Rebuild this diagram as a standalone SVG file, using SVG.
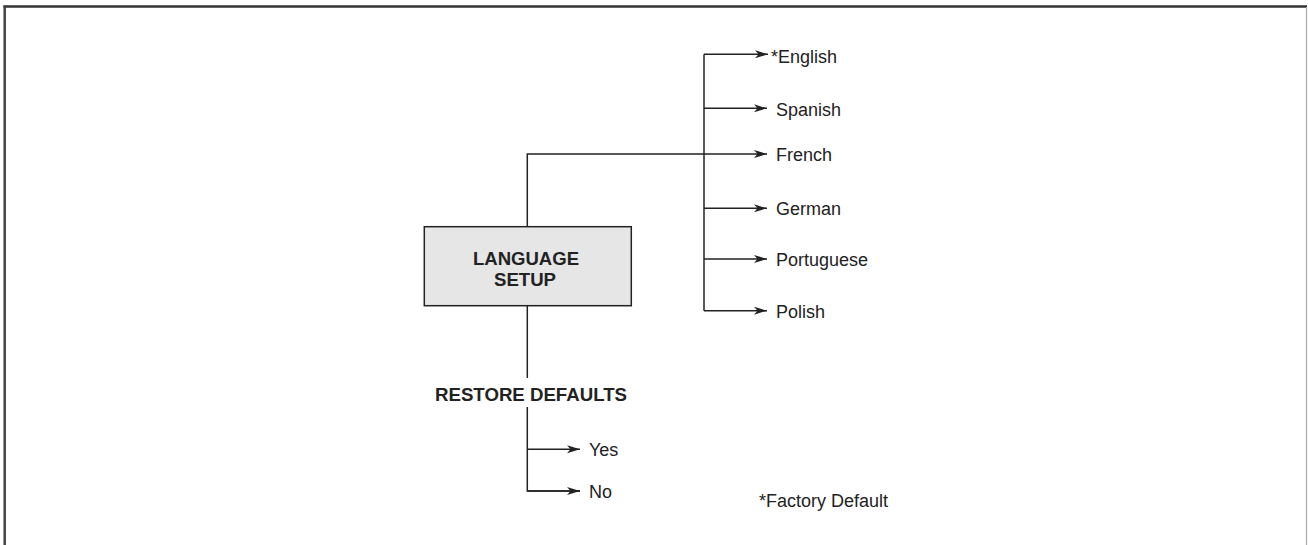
<svg xmlns="http://www.w3.org/2000/svg" width="1308" height="545" viewBox="0 0 1308 545">
<defs>
<marker id="arr" markerWidth="14" markerHeight="9" refX="13" refY="4.5" orient="auto" markerUnits="userSpaceOnUse">
<path d="M0,0.5 L13,4.5 L0,8.5 L3.5,4.5 Z" fill="#222"/>
</marker>
</defs>
<style>
.ln{stroke:#222;stroke-width:1.5;fill:none}
.ar{stroke:#222;stroke-width:1.5;fill:none;marker-end:url(#arr)}
.t{font-family:"Liberation Sans",Arial,sans-serif;font-size:18px;fill:#222}
.b{font-family:"Liberation Sans",Arial,sans-serif;font-size:17.5px;font-weight:bold;fill:#222}
</style>
<rect width="1308" height="545" fill="#fff"/>
<g id="frame">
<line x1="3.5" y1="6.5" x2="1307" y2="6.5" stroke="#333" stroke-width="2.5"/>
<line x1="4.7" y1="5.5" x2="4.7" y2="545" stroke="#444" stroke-width="2.5"/>
<line x1="1306.5" y1="7" x2="1306.5" y2="545" stroke="#aaa" stroke-width="1.2"/>
</g>
<g id="connectors">
<polyline class="ln" points="527.3,226.7 527.3,154 704,154"/>
<line class="ln" x1="704" y1="54.3" x2="704" y2="310.7"/>
<line class="ar" x1="704" y1="54.3" x2="768" y2="54.3"/>
<line class="ar" x1="704" y1="108.3" x2="767" y2="108.3"/>
<line class="ar" x1="704" y1="154" x2="767" y2="154"/>
<line class="ar" x1="704" y1="208.3" x2="767" y2="208.3"/>
<line class="ar" x1="704" y1="259" x2="767" y2="259"/>
<line class="ar" x1="704" y1="310.7" x2="767" y2="310.7"/>
<line class="ln" x1="527.3" y1="305.7" x2="527.3" y2="378"/>
<polyline class="ln" points="527.3,407 527.3,491 580,491"/>
<line class="ar" x1="527.3" y1="449.3" x2="580" y2="449.3"/>
<line class="ar" x1="527.3" y1="491" x2="580" y2="491"/>
</g>
<g id="language-setup">
<rect x="424.3" y="226.7" width="207" height="79" fill="#e6e6e6" stroke="#222" stroke-width="1.5"/>
<text class="b" x="526" y="265" text-anchor="middle" textLength="106" lengthAdjust="spacingAndGlyphs">LANGUAGE</text>
<text class="b" x="525" y="286" text-anchor="middle" textLength="62" lengthAdjust="spacingAndGlyphs">SETUP</text>
</g>
<g id="english"><text class="t" x="771" y="62.5">*English</text></g>
<g id="spanish"><text class="t" x="776" y="115.5">Spanish</text></g>
<g id="french"><text class="t" x="776" y="161">French</text></g>
<g id="german"><text class="t" x="776" y="215">German</text></g>
<g id="portuguese"><text class="t" x="776" y="265.5">Portuguese</text></g>
<g id="polish"><text class="t" x="776" y="317.5">Polish</text></g>
<g id="restore-defaults">
<text class="b" x="531" y="400.5" text-anchor="middle" textLength="192" lengthAdjust="spacingAndGlyphs">RESTORE DEFAULTS</text>
</g>
<g id="yes"><text class="t" x="589" y="456">Yes</text></g>
<g id="no"><text class="t" x="589" y="497.5">No</text></g>
<g id="factory-default"><text class="t" x="759" y="506.5">*Factory Default</text></g>
</svg>
